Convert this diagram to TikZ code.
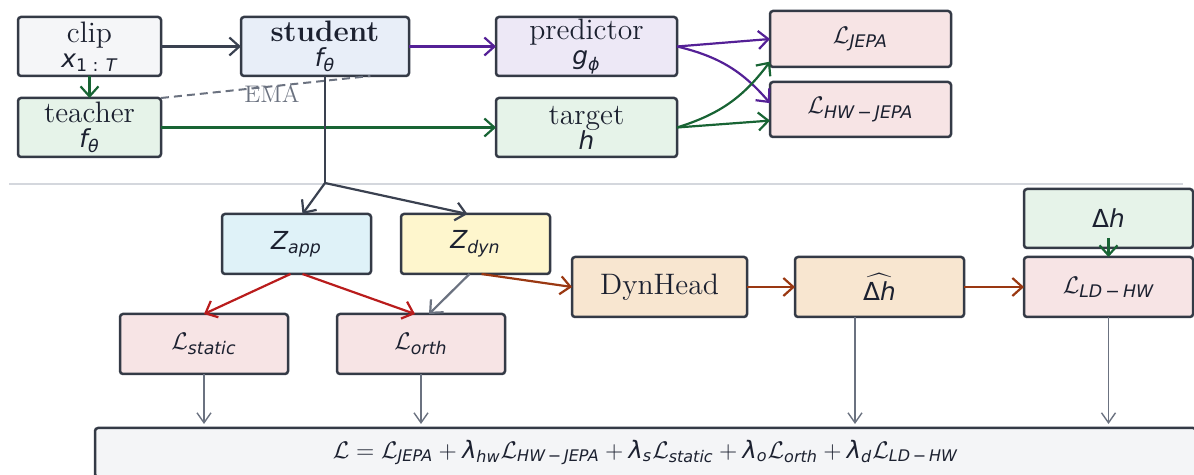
\documentclass[tikz,border=0pt]{standalone}
\usepackage{amsmath}
\usepackage{fontspec}
\usepackage{tikz}
\usetikzlibrary{positioning, arrows.meta}

\newfontfamily\dvs{DejaVu Sans}
\newcommand{\vi}[1]{\text{\dvs\itshape #1}}
\newcommand{\vu}[1]{\text{\dvs #1}}
\newcommand{\mfont}{\fontsize{12.4}{12.5}\selectfont}

\definecolor{edge}{RGB}{52,58,70}
\definecolor{ink}{RGB}{28,33,48}
\definecolor{dark}{RGB}{58,65,80}
\definecolor{purp}{RGB}{84,32,150}
\definecolor{grn}{RGB}{24,100,52}
\definecolor{rd}{RGB}{185,28,28}
\definecolor{brn}{RGB}{154,56,18}
\definecolor{slate}{RGB}{107,114,128}
\definecolor{sepgray}{RGB}{212,215,221}
\definecolor{clipfill}{RGB}{245,246,248}
\definecolor{studentfill}{RGB}{232,238,248}
\definecolor{predfill}{RGB}{237,232,246}
\definecolor{lossfill}{RGB}{247,228,229}
\definecolor{greenfill}{RGB}{230,243,233}
\definecolor{appfill}{RGB}{223,242,248}
\definecolor{dynfill}{RGB}{254,246,205}
\definecolor{headfill}{RGB}{248,230,208}
\definecolor{totalfill}{RGB}{244,245,247}

\begin{document}
\begin{tikzpicture}[x=0.5pt, y=-0.5pt,
        box/.style={draw=edge, line width=1.25pt, rounded corners=1.5pt, align=center, outer sep=0pt,
            inner sep=0pt, minimum height=30pt, text=ink, font=\fontsize{14.8}{12.5}\selectfont},
        arr/.style={-{Straight Barb[length=5pt, width=9pt]}, line width=1.1pt},
        thinarr/.style={-{Straight Barb[length=5pt, width=7pt]}, line width=0.7pt, draw=slate, shorten >=2pt},
        ema/.style={dashed, dash pattern=on 4pt off 2.5pt, line width=1pt, draw=slate}]
        \useasboundingbox (0,0) rectangle (1194,475);
        \clip (0,0) rectangle (1194,475);

        % Nodes
        % Training branch
        \node (clip) [box, fill=clipfill, minimum width=71.5pt, minimum height=29.5pt] at (89.5,46.5) {clip\\{\mfont$\vi{x}_{\vu{1 : }\vi{T}}$}};
        \node (student) [right=40pt of clip, box, fill=studentfill, minimum width=84pt, minimum height=29.5pt] {\textbf{student}\\{\mfont$\vi{f}_{\vi{θ}}$}};
        \node (pred) [right=43.5pt of student, box, fill=predfill, minimum width=90.5pt, minimum height=29.5pt] {predictor\\{\mfont$\vi{g}_{\vi{ϕ}}$}};
        \node (teacher) [below=11pt of clip, box, fill=greenfill, minimum width=71.5pt, minimum height=29.5pt] {teacher\\{\mfont$\vi{f}_{\vi{θ}}$}};
        \node (target) [below=11pt of pred, box, fill=greenfill, minimum width=90.5pt, minimum height=29.5pt] {target\\{\mfont$\vi{h}$}};

        \node (l_jepa) [right=46.5pt of pred, yshift=3.75pt, box, fill=lossfill, minimum width=90.5pt, minimum height=28pt] {\mfont$\mathcal{L}_{\vi{JEPA}}$};
        \node (l_hw) [below=7.5pt of l_jepa, box, fill=lossfill, minimum width=90.5pt, minimum height=27.5pt] {\mfont$\mathcal{L}_{\vi{HW}\,\vu{−}\,\vi{JEPA}}$};

        % Split branch
        \node (z_app) [box, fill=appfill, minimum width=74.5pt] at (296.5,244) {\mfont$\vi{Z}_{\vi{app}}$};
        \node (z_dyn) [right=15pt of z_app, box, fill=dynfill, minimum width=74.5pt] {\mfont$\vi{Z}_{\vi{dyn}}$};
        \node (dynhead) [right=11pt of z_dyn, yshift=-21.5pt, box, fill=headfill, minimum width=87.5pt] {DynHead};
        \node (dh_hat) [right=24pt of dynhead, box, fill=headfill, minimum width=84.5pt] {\mfont$\widehat{\vu{Δ}\vi{h}}$};
        \node (l_ld) [right=30pt of dh_hat, box, fill=lossfill, minimum width=84.5pt] {\mfont$\mathcal{L}_{\vi{LD}\,\vu{−}\,\vi{HW}}$};
        \node (dh) [above=4.5pt of l_ld, box, fill=greenfill, minimum width=84.5pt, minimum height=29.5pt] {\mfont$\vu{Δ}\vi{h}$};

        \node (l_static) [box, fill=lossfill, minimum width=84pt] at (204,344) {\mfont$\mathcal{L}_{\vi{static}}$};
        \node (l_orth) [right=24.5pt of l_static, box, fill=lossfill, minimum width=84pt] {\mfont$\mathcal{L}_{\vi{orth}}$};

        % Total loss
        \node (total) [box, fill=totalfill, minimum width=550.5pt, minimum height=24.5pt, font=\fontsize{12}{14}\selectfont] at (645.5,452.5)
            {$\mathcal{L} = \mathcal{L}_{\vi{JEPA}} + \vi{λ}_{\vi{hw}}\mathcal{L}_{\vi{HW}\,\vu{−}\,\vi{JEPA}} + \vi{λ}_{\vi{s}}\mathcal{L}_{\vi{static}} + \vi{λ}_{\vi{o}}\mathcal{L}_{\vi{orth}} + \vi{λ}_{\vi{d}}\mathcal{L}_{\vi{LD}\,\vu{−}\,\vi{HW}}$};

        % Separator
        \draw[sepgray, line width=1pt] (9,184) -- (1183,184);

        % Arrows
        \draw[arr, draw=dark] (clip) -- (student);
        \draw[arr, draw=purp] (student) -- (pred);
        \draw[arr, draw=purp] (pred.east) -- (l_jepa.west);
        \draw[arr, draw=purp] (pred.east) to[bend left=18] (l_hw.176);
        \draw[arr, draw=grn] (target.east) to[bend right=18] (l_jepa.194);
        \draw[arr, draw=grn] (target.east) -- (l_hw.187);
        \draw[arr, draw=grn] (teacher) -- (target);
        \draw[arr, draw=grn] (clip) -- (teacher);

        \draw[ema] (teacher.north east) -- node[pos=0.53, below=-1pt, inner sep=0pt, text=slate, font=\fontsize{12}{14}\selectfont] (ema) {EMA} (student.-33);

        \coordinate (split) at (student.south |- 0,183);
        \draw[line width=1.1pt, draw=dark] (student) -- (split);
        \draw[arr, draw=dark] (split) -- ([xshift=3pt]z_app.north);
        \draw[arr, draw=dark] (split) -- ([xshift=-4pt]z_dyn.north);

        \draw[arr, draw=rd] ([xshift=-3pt]z_app.south) -- (l_static.north);
        \draw[arr, draw=rd] ([xshift=3pt]z_app.south) -- ([xshift=-3pt]l_orth.north);
        \draw[arr, draw=slate] ([xshift=-3pt]z_dyn.south) -- ([xshift=4pt]l_orth.north);
        \draw[arr, draw=brn] ([xshift=3pt]z_dyn.south) -- (dynhead.west);
        \draw[arr, draw=brn] (dynhead) -- (dh_hat);
        \draw[arr, draw=brn] (dh_hat) -- (l_ld);
        \draw[arr, draw=grn] ([yshift=5pt]dh.south) -- (l_ld.north);

        \draw[thinarr] (l_static) -- (l_static |- total.north);
        \draw[thinarr] (l_orth) -- (l_orth |- total.north);
        \draw[thinarr] ([xshift=-12.25pt]dh_hat.south) -- ([xshift=-12.25pt]dh_hat.south |- total.north);
        \draw[thinarr] (l_ld) -- (l_ld |- total.north);

    \end{tikzpicture}
\end{document}
